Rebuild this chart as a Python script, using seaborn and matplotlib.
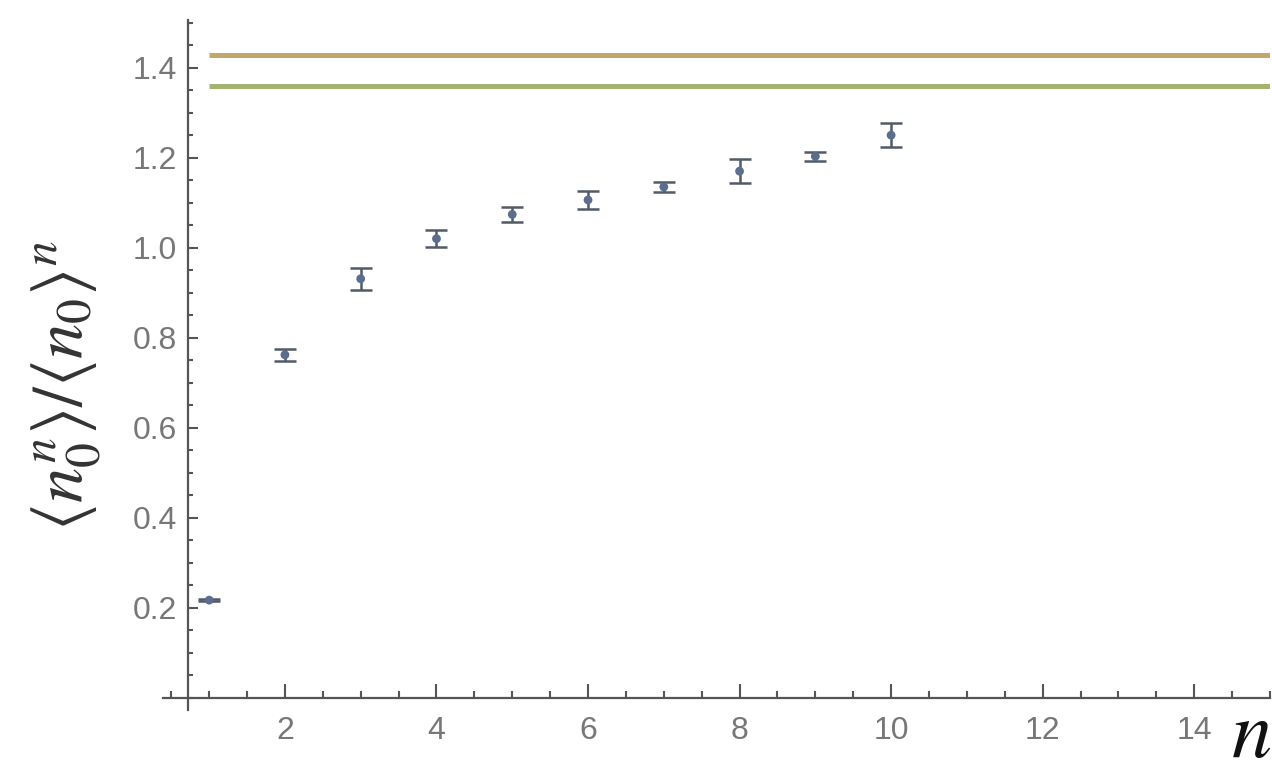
import matplotlib
matplotlib.use("Agg")
import matplotlib.pyplot as plt
import seaborn as sns
import pandas as pd
import numpy as np
from matplotlib.ticker import MultipleLocator, FixedLocator

# moment ratio <n0^n>/<n0>^n with statistical errors
orders = [1, 2, 3, 4, 5, 6, 7, 8, 9, 10]
ratio = [0.217, 0.762, 0.931, 1.020, 1.074, 1.106, 1.135, 1.170, 1.203, 1.250]
ratio_err = [0.003, 0.013, 0.025, 0.019, 0.016, 0.020, 0.011, 0.027, 0.010, 0.027]

# asymptotic reference levels
ref_levels = [1.428, 1.360]
ref_colors = ["#c3a66c", "#a4b46c"]

x_ticks = [2, 4, 6, 8, 10, 12, 14]
y_ticks = [0.2, 0.4, 0.6, 0.8, 1.0, 1.2, 1.4]

sns.set_theme(style="white")
plt.rcParams["font.family"] = ["Liberation Sans", "DejaVu Sans"]
plt.rcParams["mathtext.fontset"] = "stix"

df = pd.DataFrame({"n": orders, "ratio": ratio, "err": ratio_err})

fig = plt.figure(figsize=(12.72, 7.76), dpi=100)
ax = fig.add_axes([0.1281, 0.0851, 0.8703, 0.8892])

for lvl, col in zip(ref_levels, ref_colors):
    ax.hlines(lvl, orders[0], 15.0, color=col, lw=3.6, zorder=1)

ax.errorbar(df["n"], df["ratio"], yerr=df["err"], fmt="none",
            ecolor="#525a68", elinewidth=1.8, capsize=8, capthick=1.8, zorder=2)
sns.scatterplot(data=df, x="n", y="ratio", ax=ax, s=40, color="#5b6e90",
                edgecolor="none", zorder=3, legend=False)

ax.set_xlim(0.39, 15.0)
ax.set_ylim(-0.027, 1.506)

for side in ("top", "right"):
    ax.spines[side].set_visible(False)
ax.spines["left"].set_position(("data", 0.72))
ax.spines["bottom"].set_position(("data", 0.0))
for side in ("left", "bottom"):
    ax.spines[side].set_color("#555555")
    ax.spines[side].set_linewidth(1.6)

ax.xaxis.set_major_locator(FixedLocator(x_ticks))
ax.xaxis.set_minor_locator(MultipleLocator(0.5))
ax.yaxis.set_major_locator(FixedLocator(y_ticks))
ax.yaxis.set_minor_locator(MultipleLocator(0.05))
ax.set_xticklabels([str(t) for t in x_ticks])
ax.set_yticklabels([f"{t:.1f}" for t in y_ticks])

ax.tick_params(axis="x", which="major", direction="in", length=10, width=1.5,
               color="#555555", pad=13, labelsize=23, labelcolor="#777777", bottom=True)
ax.tick_params(axis="x", which="minor", direction="in", length=5, width=1.5,
               color="#555555", bottom=True)
ax.tick_params(axis="y", which="major", direction="in", length=7, width=1.5,
               color="#555555", pad=8, labelsize=23, labelcolor="#777777", left=True)
ax.tick_params(axis="y", which="minor", direction="in", length=3.6, width=1.5,
               color="#555555", left=True)

ax.set_xlabel("")
ax.set_ylabel("")

fig.text(66 / 1272, 1 - 386 / 776, r"$\langle n_0^n\rangle/\langle n_0\rangle^n$",
         rotation=90, ha="center", va="center", fontsize=51, color="#333333")
fig.text(1231 / 1272, 2 / 776, r"$n$", ha="left", va="bottom",
         fontsize=58, color="#111111")

fig.savefig("out.png", dpi=100, facecolor="white")
